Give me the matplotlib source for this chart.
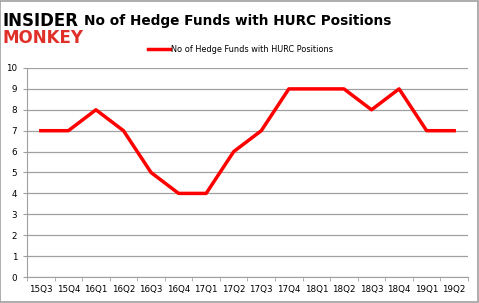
import matplotlib
matplotlib.use("Agg")
import matplotlib.pyplot as plt
from matplotlib.patches import Rectangle

quarters = ["15Q3", "15Q4", "16Q1", "16Q2", "16Q3", "16Q4", "17Q1", "17Q2",
            "17Q3", "17Q4", "18Q1", "18Q2", "18Q3", "18Q4", "19Q1", "19Q2"]
funds = [7, 7, 8, 7, 5, 4, 4, 6, 7, 9, 9, 9, 8, 9, 7, 7]

fig = plt.figure(figsize=(4.79, 3.03), dpi=100)
ax = fig.add_axes([0.0564, 0.0858, 0.9206, 0.6898])

x = list(range(len(quarters)))
ax.plot(x, funds, color="#ff0000", linewidth=2.5,
        label="No of Hedge Funds with HURC Positions")

ax.set_xlim(-0.5, len(quarters) - 0.5)
ax.set_ylim(0, 10)
ax.set_yticks(range(0, 11))
ax.set_xticks(x)
ax.set_xticklabels(quarters)
ax.set_xticks([i - 0.5 for i in range(len(quarters) + 1)], minor=True)
ax.tick_params(axis="x", which="major", length=0, labelsize=6.3, pad=6)
ax.tick_params(axis="x", which="minor", length=3, color="#a0a0a0")
ax.tick_params(axis="y", length=3, color="#a0a0a0", labelsize=6.3, pad=4)
ax.grid(axis="y", color="#a0a0a0", linewidth=0.9)
ax.set_axisbelow(True)
for s in ["top", "right"]:
    ax.spines[s].set_visible(False)
for s in ["left", "bottom"]:
    ax.spines[s].set_color("#a0a0a0")

fig.legend(loc="upper center", bbox_to_anchor=(0.502, 0.875), frameon=False,
           fontsize=5.9, handlelength=2.6, handletextpad=0.1)

fig.text(0.497, 0.93, "No of Hedge Funds with HURC Positions",
         ha="center", va="center", fontsize=9.8, fontweight="bold")
fig.text(0.006, 0.932, "INSIDER", ha="left", va="center", fontsize=12,
         fontweight="bold", color="black", family="Liberation Sans Narrow")
fig.text(0.006, 0.875, "MONKEY", ha="left", va="center", fontsize=12,
         fontweight="bold", color="#e0302a", family="Liberation Sans Narrow")

fig.patches.append(Rectangle((0.001, 0.002), 0.997, 0.995, transform=fig.transFigure,
                             fill=False, edgecolor="#a0a0a0", linewidth=1.2))

fig.savefig("out.png", dpi=100)
